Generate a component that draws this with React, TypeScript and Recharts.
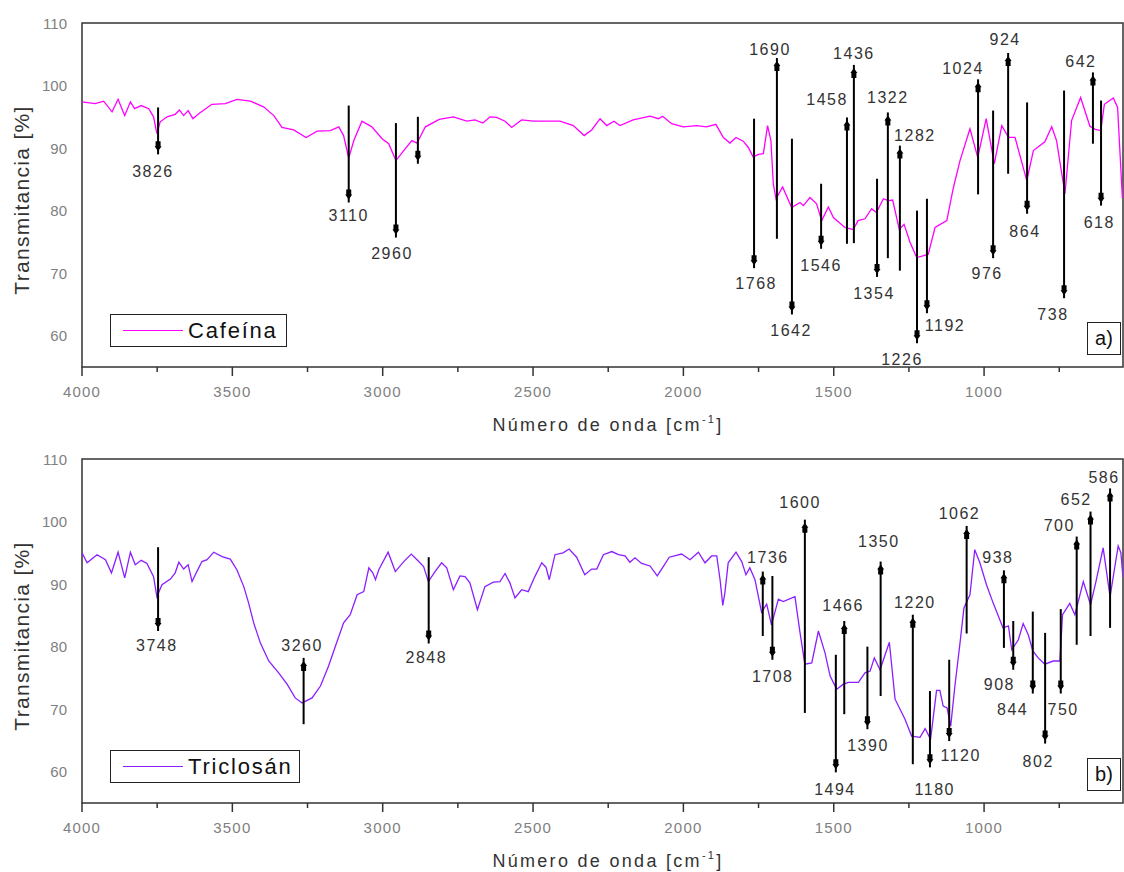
import React from 'react';
import {
  LineChart,
  Line,
  XAxis,
  YAxis,
  ReferenceLine,
  ReferenceDot,
  ReferenceArea
} from 'recharts';

// wavenumber [cm-1] and transmittance [%]
const cafWave = [
  4000, 3956, 3928, 3900, 3880, 3858, 3839, 3825, 3803, 3778, 3762, 3751, 3740, 3717, 3690, 3676,
  3662, 3647, 3631, 3612, 3568, 3523, 3485, 3440, 3396, 3362, 3335, 3296, 3255, 3218, 3174, 3146,
  3130, 3113, 3096, 3069, 3036, 3002, 2980, 2956, 2930, 2903, 2886, 2858, 2812, 2765, 2720, 2693,
  2667, 2643, 2621, 2593, 2571, 2538, 2499, 2410, 2366, 2330, 2305, 2277, 2255, 2231, 2211, 2167,
  2111, 2083, 2069, 2039, 2000, 1956, 1923, 1892, 1867, 1845, 1825, 1801, 1784, 1768, 1750, 1734,
  1720, 1709, 1701, 1692, 1670, 1640, 1612, 1601, 1579, 1557, 1540, 1518, 1501, 1463, 1435, 1419,
  1396, 1374, 1358, 1335, 1319, 1304, 1282, 1266, 1246, 1224, 1186, 1163, 1124, 1102, 1080, 1047,
  1021, 993, 966, 941, 919, 897, 858, 836, 798, 775, 759, 731, 709, 679, 648, 630, 612, 600, 570,
  556, 540
];
const cafT = [
  97.4, 97.1, 97.5, 95.8, 97.8, 95.2, 97.4, 96.3, 96.8, 96.3, 95.0, 92.3, 94.2, 95.0, 95.4, 96.1,
  95.2, 96.0, 94.7, 95.5, 97.0, 97.1, 97.8, 97.5, 96.6, 95.2, 93.3, 92.9, 91.7, 92.7, 92.8, 93.4,
  92.0, 88.4, 91.2, 94.3, 93.4, 91.5, 90.7, 88.0, 89.6, 91.2, 90.8, 93.4, 94.6, 95.0, 94.3, 94.5,
  94.0, 95.0, 94.9, 94.3, 93.3, 94.5, 94.3, 94.3, 93.6, 92.0, 92.9, 94.7, 93.6, 94.3, 93.6, 94.5,
  95.1, 94.7, 95.1, 93.9, 93.4, 93.6, 93.4, 93.8, 91.7, 90.8, 91.7, 91.1, 90.1, 88.6, 89.0, 89.1,
  93.6, 91.2, 84.3, 81.9, 83.8, 80.5, 81.3, 80.8, 82.1, 81.1, 78.4, 80.6, 78.9, 77.3, 77.0, 78.4,
  78.7, 80.3, 79.7, 81.9, 81.6, 81.7, 77.0, 77.8, 74.9, 72.5, 73.0, 77.3, 78.4, 83.7, 88.0, 93.1,
  88.5, 94.7, 87.5, 93.6, 91.7, 91.7, 84.8, 89.6, 91.0, 93.4, 91.2, 82.7, 94.4, 98.1, 93.5, 93.0,
  92.8, 97.0, 98.0, 96.5, 82.0
];

const triWave = [
  4000, 3983, 3950, 3922, 3902, 3880, 3858, 3839, 3823, 3803, 3784, 3762, 3751, 3734, 3706, 3690,
  3678, 3662, 3647, 3634, 3618, 3601, 3584, 3562, 3534, 3507, 3485, 3462, 3446, 3429, 3407, 3379,
  3346, 3318, 3291, 3268, 3235, 3207, 3180, 3157, 3130, 3108, 3085, 3063, 3046, 3033, 3024, 3013,
  2982, 2958, 2930, 2905, 2880, 2864, 2848, 2826, 2804, 2787, 2765, 2743, 2726, 2710, 2685, 2660,
  2632, 2610, 2593, 2577, 2560, 2538, 2516, 2494, 2471, 2457, 2446, 2427, 2400, 2380, 2355, 2328,
  2305, 2288, 2266, 2238, 2216, 2194, 2178, 2161, 2139, 2111, 2087, 2067, 2047, 2006, 1978, 1950,
  1928, 1906, 1889, 1878, 1869, 1862, 1851, 1825, 1806, 1792, 1779, 1762, 1740, 1723, 1707, 1684,
  1668, 1629, 1612, 1596, 1573, 1551, 1529, 1512, 1490, 1468, 1451, 1418, 1396, 1379, 1365, 1346,
  1315, 1296, 1263, 1241, 1213, 1196, 1178, 1158, 1147, 1136, 1123, 1111, 1097, 1080, 1067, 1047,
  1031, 1014, 992, 970, 937, 919, 908, 886, 870, 853, 838, 820, 798, 770, 748, 739, 715, 698, 670,
  646, 628, 604, 581, 554, 545, 538
];
const triT = [
  95.0, 93.4, 94.7, 93.9, 91.8, 95.1, 91.0, 95.1, 93.1, 93.8, 93.3, 91.2, 88.0, 89.9, 90.8, 91.8,
  93.5, 92.4, 93.1, 90.4, 92.0, 93.6, 93.9, 95.1, 94.4, 94.0, 92.3, 89.6, 87.0, 83.8, 80.6, 77.7,
  75.8, 74.0, 71.8, 71.0, 71.8, 73.7, 76.9, 80.1, 83.8, 85.1, 88.3, 88.8, 92.6, 91.8, 90.7, 92.3,
  95.1, 92.0, 93.6, 94.8, 93.6, 92.8, 90.4, 92.0, 93.4, 92.6, 89.1, 91.3, 91.2, 90.2, 85.9, 89.6,
  90.3, 90.4, 91.7, 90.2, 87.8, 89.1, 88.8, 91.2, 93.4, 92.7, 90.7, 94.7, 95.0, 95.6, 94.3, 91.5,
  92.4, 92.4, 94.7, 95.2, 94.7, 94.5, 93.5, 94.2, 93.3, 92.9, 91.3, 92.8, 94.3, 94.8, 93.9, 95.1,
  93.4, 94.5, 94.5, 90.7, 86.6, 88.6, 93.4, 95.1, 93.6, 91.5, 92.6, 90.7, 85.5, 86.8, 83.5, 87.6,
  87.2, 88.0, 82.2, 77.2, 77.4, 82.5, 79.0, 75.3, 73.2, 74.0, 74.3, 74.3, 75.8, 76.1, 78.2, 76.3,
  80.7, 71.6, 68.4, 65.7, 65.5, 66.9, 65.2, 73.0, 73.0, 70.5, 70.2, 67.3, 73.7, 80.6, 86.2, 88.3,
  95.5, 93.4, 89.9, 87.0, 83.0, 83.3, 79.5, 81.1, 83.7, 81.9, 79.3, 78.2, 77.2, 77.7, 77.7, 85.1,
  86.9, 85.1, 90.4, 86.7, 90.4, 95.8, 88.0, 96.1, 95.0, 91.0
];

// peak markers: arrow at wavenumber `at` from T `from` to T `to` (head end), label anchor lx/ly
const cafPeaks = [
  { at: 3747, from: 96.5, to: 89.0, label: '3826', lx: 3764, ly: 86.2 },
  { at: 3113, from: 96.8, to: 81.3, label: '3110', lx: 3113, ly: 79.2 },
  { at: 2956, from: 94.0, to: 75.7, label: '2960', lx: 2969, ly: 73.2 },
  { at: 2883, from: 95.0, to: 87.5, label: '', lx: 2883, ly: 87.5 },
  { at: 1765, from: 94.7, to: 70.8, label: '1768', lx: 1758, ly: 68.4 },
  { at: 1689, from: 75.5, to: 104.4, label: '1690', lx: 1712, ly: 105.8 },
  { at: 1639, from: 91.5, to: 63.4, label: '1642', lx: 1642, ly: 60.9 },
  { at: 1542, from: 84.3, to: 73.9, label: '1546', lx: 1542, ly: 71.2 },
  { at: 1456, from: 74.7, to: 94.9, label: '1458', lx: 1522, ly: 97.8 },
  { at: 1433, from: 74.8, to: 103.3, label: '1436', lx: 1433, ly: 105.2 },
  { at: 1356, from: 85.1, to: 69.4, label: '1354', lx: 1366, ly: 66.7 },
  { at: 1320, from: 72.4, to: 95.7, label: '1322', lx: 1320, ly: 98.1 },
  { at: 1280, from: 70.4, to: 90.4, label: '1282', lx: 1230, ly: 92.0 },
  { at: 1223, from: 80.0, to: 58.8, label: '1226', lx: 1273, ly: 56.2 },
  { at: 1190, from: 81.9, to: 63.6, label: '1192', lx: 1130, ly: 61.7 },
  { at: 1020, from: 82.6, to: 101.0, label: '1024', lx: 1070, ly: 102.8 },
  { at: 970, from: 96.0, to: 72.4, label: '976', lx: 990, ly: 69.9 },
  { at: 920, from: 85.9, to: 105.2, label: '924', lx: 930, ly: 107.4 },
  { at: 857, from: 97.3, to: 79.5, label: '864', lx: 864, ly: 76.6 },
  { at: 734, from: 99.2, to: 66.0, label: '738', lx: 771, ly: 63.4 },
  { at: 638, from: 90.7, to: 102.1, label: '642', lx: 678, ly: 103.9 },
  { at: 611, from: 97.6, to: 80.8, label: '618', lx: 617, ly: 78.1 }
];

const triPeaks = [
  { at: 3747, from: 95.9, to: 82.5, label: '3748', lx: 3751, ly: 80.2 },
  { at: 3263, from: 67.6, to: 78.2, label: '3260', lx: 3268, ly: 80.2 },
  { at: 2847, from: 94.3, to: 80.5, label: '2848', lx: 2855, ly: 78.3 },
  { at: 1736, from: 81.7, to: 92.0, label: '1736', lx: 1719, ly: 94.2 },
  { at: 1704, from: 91.3, to: 77.9, label: '1708', lx: 1703, ly: 75.3 },
  { at: 1596, from: 69.4, to: 100.3, label: '1600', lx: 1612, ly: 103.0 },
  { at: 1493, from: 78.7, to: 59.9, label: '1494', lx: 1496, ly: 57.2 },
  { at: 1465, from: 69.2, to: 84.1, label: '1466', lx: 1469, ly: 86.6 },
  { at: 1388, from: 80.0, to: 66.8, label: '1390', lx: 1386, ly: 64.2 },
  { at: 1344, from: 72.1, to: 93.6, label: '1350', lx: 1350, ly: 96.8 },
  { at: 1237, from: 61.2, to: 85.1, label: '1220', lx: 1230, ly: 87.1 },
  { at: 1180, from: 72.9, to: 60.7, label: '1180', lx: 1164, ly: 57.2 },
  { at: 1116, from: 77.9, to: 64.9, label: '1120', lx: 1078, ly: 62.6 },
  { at: 1058, from: 82.1, to: 99.3, label: '1062', lx: 1082, ly: 101.3 },
  { at: 934, from: 79.8, to: 92.2, label: '938', lx: 954, ly: 94.2 },
  { at: 903, from: 84.1, to: 76.3, label: '908', lx: 949, ly: 74.0 },
  { at: 838, from: 85.6, to: 72.5, label: '844', lx: 905, ly: 70.0 },
  { at: 797, from: 82.2, to: 64.5, label: '802', lx: 820, ly: 61.6 },
  { at: 745, from: 86.0, to: 72.5, label: '750', lx: 737, ly: 70.0 },
  { at: 692, from: 80.3, to: 97.6, label: '700', lx: 750, ly: 99.3 },
  { at: 646, from: 81.7, to: 101.6, label: '652', lx: 694, ly: 103.5 },
  { at: 581, from: 83.0, to: 105.3, label: '586', lx: 601, ly: 107.1 }
];

const xTicks = [4000, 3750, 3500, 3250, 3000, 2750, 2500, 2250, 2000, 1750, 1500, 1250, 1000, 750];
const yTicks = [60, 70, 80, 90, 100, 110];
const xDomain = [538, 4000];
const yDomain = [55, 110];

const FONT = '"Liberation Sans", Arial, sans-serif';

const XTick = ({ x, y, payload }: any) => {
  const major = payload.value % 500 === 0;
  return (
    <g>
      <line x1={x} x2={x} y1={y} y2={y + (major ? 9 : 5)} stroke="#333" strokeWidth={1.5} />
      {major && (
        <text x={x} y={y + 24} textAnchor="middle" dominantBaseline="central"
          fontSize={15} fill="#808080" letterSpacing={1.2} fontFamily={FONT}>
          {payload.value}
        </text>
      )}
    </g>
  );
};

const YTick = ({ x, y, payload }: any) => (
  <text x={x - 15} y={y} textAnchor="end" dominantBaseline="central"
    fontSize={15} fill="#808080" fontFamily={FONT}>
    {payload.value}
  </text>
);

// vertical marker line with a small block arrowhead near the head end
const Arrow = (props: any) => {
  const { x1, y1, x2, y2 } = props;
  const d = y2 > y1 ? 1 : -1;
  const tip = y2 - d * 3;
  const sh = tip - d * 5;
  const end = tip - d * 10;
  const pts = [
    [x2, tip], [x2 - 3.5, sh], [x2 - 2.5, sh], [x2 - 2.5, end],
    [x2 + 2.5, end], [x2 + 2.5, sh], [x2 + 3.5, sh]
  ].map((p) => p.join(',')).join(' ');
  return (
    <g>
      <line x1={x1} y1={y1} x2={x2} y2={y2} stroke="#000" strokeWidth={2} />
      <polygon points={pts} fill="#000" />
    </g>
  );
};

function Panel({ wave, trans, color, peaks, name, tag, top, legendWidth }: any) {
  const data = wave.map((w: number, i: number) => ({ w, t: trans[i] }));
  return (
    <div style={{ position: 'absolute', left: 0, top, width: 1124, height: 440 }}>
      <LineChart width={1124} height={440} data={data}
        margin={{ top: 23, right: 1, bottom: 0, left: 0 }}>
        <XAxis dataKey="w" type="number" domain={xDomain} reversed ticks={xTicks} interval={0}
          tick={XTick} tickLine={false} tickSize={0} tickMargin={0} axisLine={false}
          height={73} allowDataOverflow />
        <YAxis type="number" domain={yDomain} ticks={yTicks} interval={0}
          tick={YTick} tickLine={false} tickSize={0} tickMargin={0} axisLine={false}
          width={82} allowDataOverflow />
        <ReferenceArea x1={xDomain[0]} x2={xDomain[1]} y1={yDomain[0]} y2={yDomain[1]}
          fill="none" stroke="#333" strokeWidth={1.5} />
        <Line type="linear" dataKey="t" stroke={color} strokeWidth={1.3} dot={false}
          isAnimationActive={false} />
        {peaks.map((p: any) => (
          <ReferenceLine key={`l-${p.at}`}
            segment={[{ x: p.at, y: p.from }, { x: p.at, y: p.to }]}
            shape={Arrow} />
        ))}
        {peaks.filter((p: any) => p.label).map((p: any) => (
          <ReferenceDot key={`t-${p.at}`} x={p.lx} y={p.ly} r={1}
            shape={(d: any) => (
              <text x={d.cx} y={d.cy} textAnchor="middle" dominantBaseline="central"
                fontSize={16} fill="#333" letterSpacing={1.5} fontFamily={FONT}>
                {p.label}
              </text>
            )} />
        ))}
      </LineChart>

      {/* y title */}
      <div style={{
        position: 'absolute', left: 22 - 150, top: 200 - 13, width: 300, height: 26,
        lineHeight: '26px', textAlign: 'center', transform: 'rotate(-90deg)',
        fontSize: 21, letterSpacing: 1.3, color: '#333', fontFamily: FONT
      }}>
        Transmitancia [%]
      </div>

      {/* x title */}
      <div style={{
        position: 'absolute', left: 408, top: 412, width: 400, height: 26, lineHeight: '26px',
        textAlign: 'center', fontSize: 18, letterSpacing: 2.3, color: '#333', fontFamily: FONT
      }}>
        Número de onda [cm<span style={{ fontSize: 11, position: 'relative', top: -8 }}>-1</span>]
      </div>

      {/* legend */}
      <div style={{
        position: 'absolute', left: 110, top: 314, width: legendWidth, height: 33,
        border: '1.5px solid #222', background: '#fff', boxSizing: 'border-box'
      }}>
        <div style={{ position: 'absolute', left: 12, top: 15, width: 60, height: 0, borderTop: `1.5px solid ${color}` }} />
        <div style={{
          position: 'absolute', left: 77, top: 0, lineHeight: '31px', fontSize: 22,
          letterSpacing: 1.8, color: '#111', fontFamily: FONT
        }}>
          {name}
        </div>
      </div>

      {/* panel tag */}
      <div style={{
        position: 'absolute', left: 1087, top: 322, width: 34, height: 33,
        border: '1.5px solid #222', boxSizing: 'border-box', textAlign: 'center',
        lineHeight: '30px', fontSize: 20, color: '#111', fontFamily: FONT, background: '#fff'
      }}>
        {tag}
      </div>
    </div>
  );
}

export default function App() {
  return (
    <div style={{ position: 'absolute', left: 0, top: 0, width: 1124, height: 872, background: '#fff', overflow: 'hidden' }}>
      <Panel wave={cafWave} trans={cafT} color="#ff00ff" peaks={cafPeaks}
        name="Cafeína" tag="a)" top={0} legendWidth={177} />
      <Panel wave={triWave} trans={triT} color="#8c1eff" peaks={triPeaks}
        name="Triclosán" tag="b)" top={436} legendWidth={190} />
    </div>
  );
}
